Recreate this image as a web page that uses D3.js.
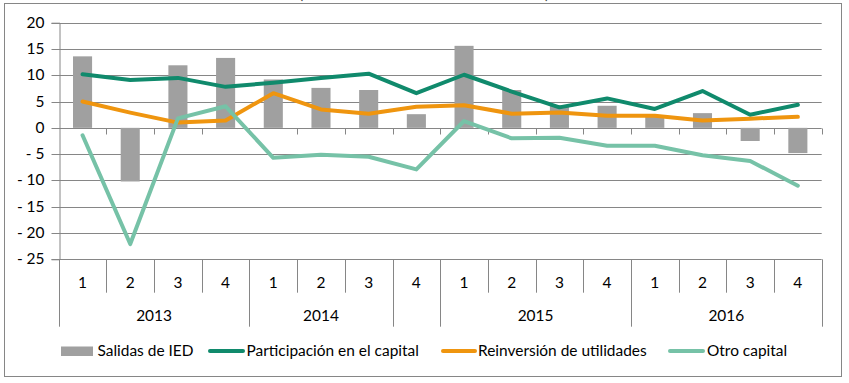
<!DOCTYPE html>
<html><head><meta charset="utf-8">
<script src="https://cdn.jsdelivr.net/npm/d3@7"></script>
<style>body{margin:0;background:#fff}svg{display:block}</style>
</head><body>
<svg id="c" width="849" height="383"></svg>
<script>
const quarters = ["1","2","3","4","1","2","3","4","1","2","3","4","1","2","3","4"];
const yearLabels = ["2013","2014","","2015","2016"];
const yearSpans = [4,3,1,4,4];
const salidas = [13.6,-10.2,11.9,13.3,9.2,7.6,7.2,2.6,15.6,7.2,4.3,4.2,2.3,2.8,-2.5,-4.8];
const participacion = [10.2,9.1,9.5,7.8,8.6,9.5,10.3,6.6,10.1,6.9,3.9,5.6,3.6,7.0,2.5,4.4];
const reinversion = [5.0,2.9,1.0,1.4,6.6,3.5,2.7,4.0,4.3,2.7,2.9,2.3,2.3,1.4,1.75,2.1];
const otro = [-1.4,-22.1,1.8,4.1,-5.7,-5.1,-5.5,-7.9,1.3,-2.0,-1.9,-3.4,-3.4,-5.2,-6.3,-11.0];
const yTicks = [20,15,10,5,0,-5,-10,-15,-20,-25];
const seriesNames = ["Salidas de IED","Participación en el capital","Reinversión de utilidades","Otro capital"];
const colors = {bar:"#a0a0a0", part:"#108a6c", rein:"#ef950f", otro:"#76c2a7", grid:"#868686"};

const svg = d3.select("#c");
const fontFam = "Lato, 'Open Sans', sans-serif";

// fit font size so that legend text width matches reference
const probe = svg.append("text").attr("font-family", fontFam).attr("font-size", 100).text(seriesNames[0]);
const pw = probe.node().getComputedTextLength();
probe.remove();
const fs = Math.max(12, Math.min(19, 96 / pw * 100));

svg.append("rect").attr("width",849).attr("height",383).attr("fill","#fff");
// clipped title remnants
svg.append("text").attr("x",299).attr("y",-1).attr("font-family",fontFam).attr("font-size",fs).attr("fill","#444").text("(");
svg.append("text").attr("x",545).attr("y",-1).attr("font-family",fontFam).attr("font-size",fs).attr("fill","#444").text(")");
svg.append("rect").attr("x",4.5).attr("y",3.5).attr("width",837).attr("height",373)
  .attr("fill","none").attr("stroke",colors.grid).attr("stroke-width",1);

const x0 = 58.7, x1 = 821.7;
const x = d3.scaleBand().domain(d3.range(quarters.length)).range([x0, x1]).padding(0);
const y = d3.scaleLinear().domain([-25, 20]).range([259.3, 22.7]);
const bw = x.bandwidth();
const cx = i => x(i) + bw / 2;
const snap = v => Math.round(v) + 0.5;

// gridlines
svg.append("g").selectAll("line").data(yTicks).join("line")
  .attr("x1", x0).attr("x2", x1).attr("y1", d => snap(y(d))).attr("y2", d => snap(y(d)))
  .attr("stroke", colors.grid).attr("stroke-width", 1);

// y axis
const yAxis = d3.axisLeft(y).tickValues(yTicks).tickSize(8).tickPadding(7)
  .tickFormat(d => d < 0 ? "- " + Math.abs(d) : String(d));
const ya = svg.append("g").attr("transform", `translate(${snap(x0)},0)`).call(yAxis);
ya.select(".domain").attr("stroke", colors.grid);
ya.selectAll(".tick line").attr("stroke", colors.grid);
ya.selectAll(".tick text").attr("font-family", fontFam).attr("font-size", fs).attr("fill", "#000");
ya.selectAll(".tick").attr("transform", d => `translate(0,${snap(y(d))})`);

// zero-line ticks
const bounds = d3.range(quarters.length + 1).map(i => i < quarters.length ? x(i) : x1);
svg.append("g").selectAll("line").data(bounds.slice(1)).join("line")
  .attr("x1", d => snap(d)).attr("x2", d => snap(d))
  .attr("y1", snap(y(0))).attr("y2", snap(y(0)) + 6)
  .attr("stroke", colors.grid);

// bottom multi-level category axis
const yBase = y(-25);
const groupStarts = [0];
yearSpans.forEach(s => groupStarts.push(groupStarts[groupStarts.length - 1] + s));
svg.append("g").selectAll("line").data(d3.range(quarters.length + 1)).join("line")
  .attr("x1", i => snap(bounds[i])).attr("x2", i => snap(bounds[i]))
  .attr("y1", yBase).attr("y2", i => groupStarts.includes(i) ? 326.7 : 292.7)
  .attr("stroke", colors.grid);
svg.append("g").selectAll("text").data(quarters).join("text")
  .attr("x", (d, i) => cx(i)).attr("y", 288).attr("text-anchor", "middle")
  .attr("font-family", fontFam).attr("font-size", fs).text(d => d);
svg.append("g").selectAll("text").data(yearLabels).join("text")
  .attr("x", (d, i) => (bounds[groupStarts[i]] + bounds[groupStarts[i + 1]]) / 2)
  .attr("y", 321).attr("text-anchor", "middle")
  .attr("font-family", fontFam).attr("font-size", fs).text(d => d);

// bars
const barW = bw * 0.4;
svg.append("g").selectAll("rect").data(salidas).join("rect")
  .attr("x", (d, i) => cx(i) - barW / 2).attr("width", barW)
  .attr("y", d => y(Math.max(0, d))).attr("height", d => Math.abs(y(d) - y(0)))
  .attr("fill", colors.bar);

// lines
const line = d3.line().x((d, i) => cx(i)).y(d => y(d));
[[participacion, colors.part], [reinversion, colors.rein], [otro, colors.otro]].forEach(([data, col]) => {
  svg.append("path").datum(data).attr("d", line).attr("fill", "none")
    .attr("stroke", col).attr("stroke-width", 4).attr("stroke-linejoin", "round").attr("stroke-linecap", "round");
});

// legend
const legY = 351;
const legItems = [
  {name: seriesNames[0], type: "bar", col: colors.bar, sx: 61, sw: 32, tx: 97.5},
  {name: seriesNames[1], type: "line", col: colors.part, sx: 208, sw: 37, tx: 246.5},
  {name: seriesNames[2], type: "line", col: colors.rein, sx: 441, sw: 36, tx: 478},
  {name: seriesNames[3], type: "line", col: colors.otro, sx: 668, sw: 37, tx: 707}
];
const lg = svg.append("g");
legItems.forEach(it => {
  if (it.type === "bar") {
    lg.append("rect").attr("x", it.sx).attr("y", legY - 4.5).attr("width", it.sw).attr("height", 9.5).attr("fill", it.col);
  } else {
    lg.append("line").attr("x1", it.sx + 2).attr("x2", it.sx + it.sw - 2).attr("y1", legY).attr("y2", legY)
      .attr("stroke", it.col).attr("stroke-width", 4).attr("stroke-linecap", "round");
  }
  lg.append("text").attr("x", it.tx).attr("y", legY).attr("dy", "0.35em")
    .attr("font-family", fontFam).attr("font-size", fs).text(it.name);
});
</script>
</body></html>
